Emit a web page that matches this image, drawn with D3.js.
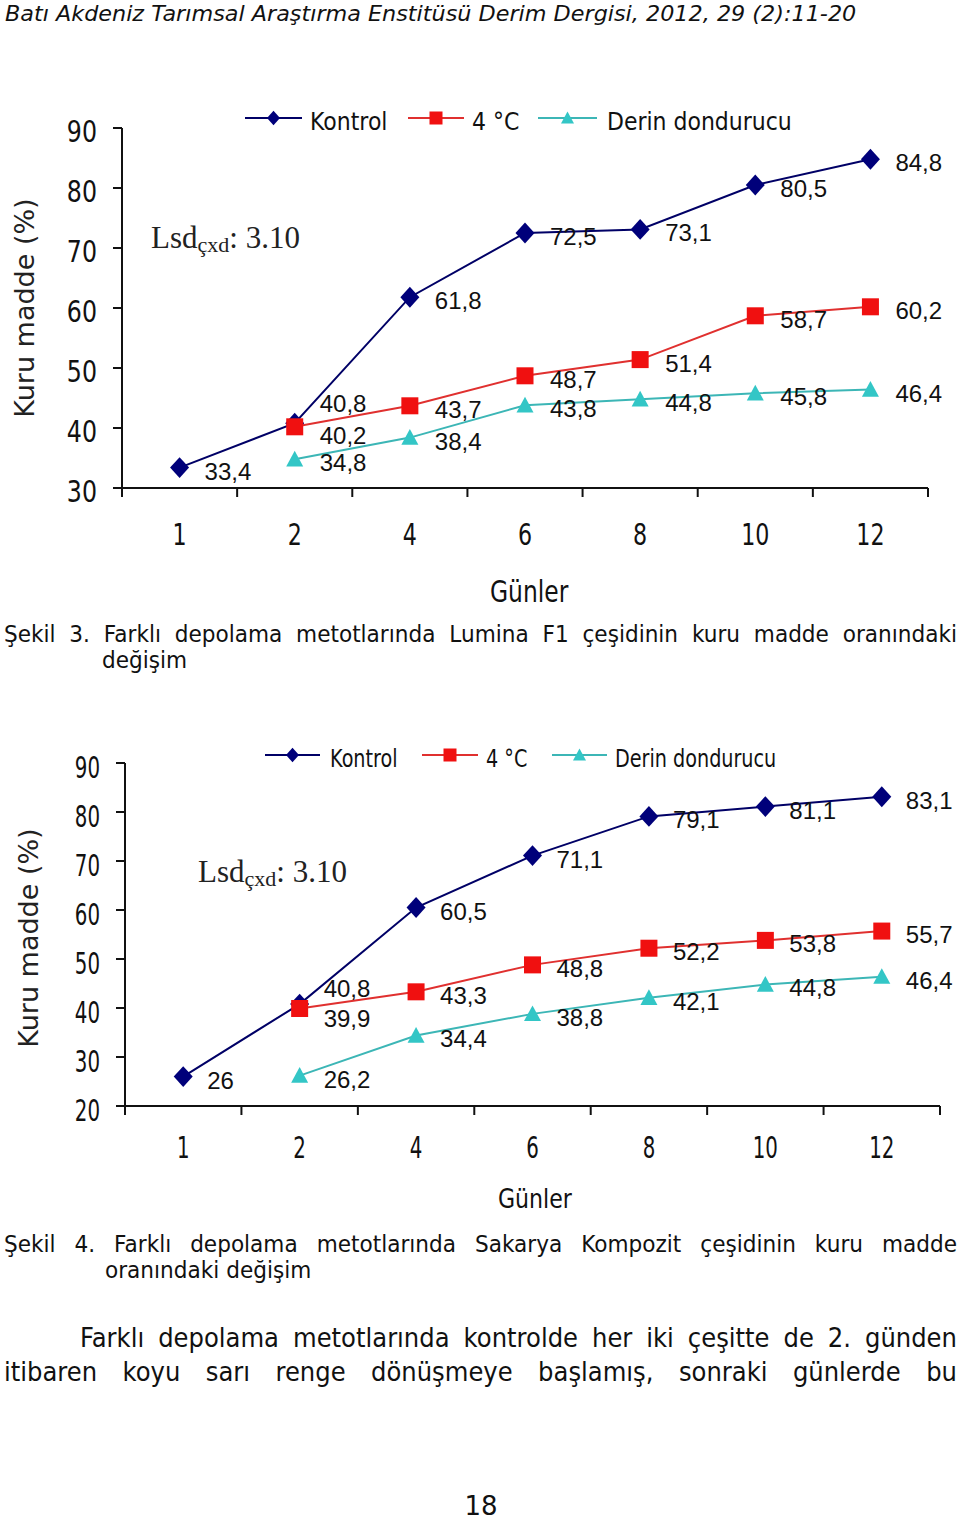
<!DOCTYPE html>
<html><head><meta charset="utf-8">
<script src="https://cdn.jsdelivr.net/npm/d3@7"></script>
<style>html,body{margin:0;padding:0;background:#fff;}svg{display:block;}</style>
</head><body>
<script>
// ---------- DATA ----------
const days = ["1","2","4","6","8","10","12"];
const seriesNames = ["Kontrol","4 °C","Derin dondurucu"];
// Şekil 3 – Lumina F1
const kontrol1 = [33.4, 40.8, 61.8, 72.5, 73.1, 80.5, 84.8];
const soguk1   = [null, 40.2, 43.7, 48.7, 51.4, 58.7, 60.2];
const derin1   = [null, 34.8, 38.4, 43.8, 44.8, 45.8, 46.4];
const yTicks1  = [30, 40, 50, 60, 70, 80, 90];
// Şekil 4 – Sakarya Kompozit
const kontrol2 = [26, 40.8, 60.5, 71.1, 79.1, 81.1, 83.1];
const soguk2   = [null, 39.9, 43.3, 48.8, 52.2, 53.8, 55.7];
const derin2   = [null, 26.2, 34.4, 38.8, 42.1, 44.8, 46.4];
const yTicks2  = [20, 30, 40, 50, 60, 70, 80, 90];

const headerText = "Batı Akdeniz Tarımsal Araştırma Enstitüsü Derim Dergisi, 2012, 29 (2):11-20";
const caption3 = ["Şekil 3. Farklı depolama metotlarında Lumina F1 çeşidinin kuru madde oranındaki", "değişim"];
const caption4 = ["Şekil 4. Farklı depolama metotlarında Sakarya Kompozit çeşidinin kuru madde", "oranındaki değişim"];
const paragraph = ["Farklı depolama metotlarında kontrolde her iki çeşitte de 2. günden", "itibaren koyu sarı renge dönüşmeye başlamış, sonraki günlerde bu"];
const pageNo = "18";

// ---------- STYLE ----------
const colors = {line: ["#000066", "#e0302f", "#3cb6b6"], mark: ["#00007a", "#f01010", "#33c6c6"]};
const SANS = "'DejaVu Sans', Verdana, sans-serif";
const ARIAL = "'Liberation Sans', Arial, sans-serif";
const SERIF = "'Liberation Serif', 'Times New Roman', serif";

const svg = d3.select("body").append("svg").attr("width", 960).attr("height", 1520);
svg.append("rect").attr("width", 960).attr("height", 1520).attr("fill", "#fff");

function stext(g, str, x, y, size, sx, family, anchor) {
  return g.append("text")
    .attr("transform", `translate(${x},${y}) scale(${sx},1)`)
    .attr("font-family", family || SANS).attr("font-size", size)
    .attr("text-anchor", anchor || "start").attr("fill", "#111").text(str);
}

function marker(g, type, cx, cy, s, color) {
  if (type === 0) {
    g.append("path").attr("d", `M${cx},${cy - s * 1.1}L${cx + s},${cy}L${cx},${cy + s * 1.1}L${cx - s},${cy}Z`).attr("fill", color);
  } else if (type === 1) {
    g.append("rect").attr("x", cx - s).attr("y", cy - s).attr("width", 2 * s).attr("height", 2 * s).attr("fill", color);
  } else {
    g.append("path").attr("d", `M${cx},${cy - s}L${cx + s},${cy + s * 0.85}L${cx - s},${cy + s * 0.85}Z`).attr("fill", color);
  }
}

// ---------- CHART ----------
function drawChart(cfg, series, yTicks) {
  const g = svg.append("g");
  const x = d3.scaleBand().domain(days).range([cfg.left, cfg.right]).padding(0);
  const y = d3.scaleLinear().domain(cfg.yDomain).range([cfg.yBottom, cfg.yTop]);
  const cx = d => x(d) + x.bandwidth() / 2;
  const y0 = y(cfg.yDomain[0]);

  // axes
  g.append("line").attr("x1", cfg.left).attr("x2", cfg.left).attr("y1", y(cfg.yDomain[1])).attr("y2", y0 + 9)
    .attr("stroke", "#111").attr("stroke-width", 2);
  g.append("line").attr("x1", cfg.left - 9).attr("x2", cfg.right).attr("y1", y0).attr("y2", y0)
    .attr("stroke", "#111").attr("stroke-width", 2);
  yTicks.forEach(t => {
    g.append("line").attr("x1", cfg.left - 9).attr("x2", cfg.left).attr("y1", y(t)).attr("y2", y(t))
      .attr("stroke", "#111").attr("stroke-width", 2);
    stext(g, String(t), cfg.left - 25, y(t) + cfg.yLabDy, cfg.yLabSize, cfg.yLabSx, SANS, "end");
  });
  const bounds = days.map(d => x(d)).concat([cfg.right]);
  bounds.forEach(b => {
    g.append("line").attr("x1", b).attr("x2", b).attr("y1", y0).attr("y2", y0 + 9)
      .attr("stroke", "#111").attr("stroke-width", 2);
  });
  days.forEach(d => stext(g, d, cx(d), cfg.xLabY, cfg.xLabSize, cfg.xLabSx, SANS, "middle"));

  // titles
  stext(g, "Günler", cfg.gunX, cfg.gunY, cfg.gunSize, cfg.gunSx, SANS, "start");
  g.append("text").attr("transform", `translate(${cfg.ytX},${cfg.ytY}) rotate(-90)`)
    .attr("font-family", SANS).attr("font-size", 27).attr("text-anchor", "middle").attr("fill", "#222")
    .text("Kuru madde (%)");

  // Lsd annotation
  const lsd = g.append("text").attr("x", cfg.lsdX).attr("y", cfg.lsdY).attr("font-family", SERIF)
    .attr("font-size", 31).attr("fill", "#222");
  lsd.append("tspan").text("Lsd");
  lsd.append("tspan").attr("font-size", 22).attr("dy", 4).text("çxd");
  lsd.append("tspan").attr("dy", -4).text(": 3.10");

  // lines
  const line = d3.line().defined(d => d.v != null).x(d => cx(d.day)).y(d => y(d.v));
  series.forEach((vals, i) => {
    const pts = vals.map((v, j) => ({day: days[j], v}));
    g.append("path").datum(pts).attr("d", line).attr("fill", "none")
      .attr("stroke", colors.line[i]).attr("stroke-width", 2);
  });
  series.forEach((vals, i) => {
    vals.forEach((v, j) => {
      if (v == null) return;
      marker(g, i, cx(days[j]), y(v), i === 0 ? 9.5 : 8.5, colors.mark[i]);
    });
  });
  // data labels
  series.forEach((vals, i) => {
    vals.forEach((v, j) => {
      if (v == null) return;
      const key = i + "-" + j;
      const dy = cfg.labDy[key] != null ? cfg.labDy[key] : 12;
      g.append("text").attr("x", cx(days[j]) + cfg.labDx).attr("y", y(v) + dy)
        .attr("font-family", ARIAL).attr("font-size", 24).attr("fill", "#111")
        .text(String(v).replace(".", ","));
    });
  });

  // legend
  cfg.legend.forEach((L, i) => {
    g.append("line").attr("x1", L[0]).attr("x2", L[1]).attr("y1", cfg.legY).attr("y2", cfg.legY)
      .attr("stroke", colors.line[i]).attr("stroke-width", 2);
    marker(g, i, (L[0] + L[1]) / 2, cfg.legY, 6.5, colors.mark[i]);
    stext(g, seriesNames[i], L[2], cfg.legY + 12, cfg.legSize, cfg.legSx, SANS, "start");
  });
}

drawChart({
  left: 122, right: 928, yTop: 128, yBottom: 488, yDomain: [30, 90],
  yLabDy: 14, yLabSize: 30, yLabSx: 0.79,
  xLabY: 545, xLabSize: 30, xLabSx: 0.74,
  gunX: 490, gunY: 602, gunSize: 30, gunSx: 0.78,
  ytX: 34, ytY: 308,
  lsdX: 151, lsdY: 248,
  labDx: 25, labDy: {"0-1": -11, "1-1": 17},
  legend: [[245, 302, 310], [408, 464, 472], [538, 597, 607]], legY: 118, legSize: 25, legSx: 0.88
}, [kontrol1, soguk1, derin1], yTicks1);

drawChart({
  left: 125, right: 940, yTop: 763, yBottom: 1106, yDomain: [20, 90],
  yLabDy: 15, yLabSize: 30, yLabSx: 0.66,
  xLabY: 1158, xLabSize: 30, xLabSx: 0.66,
  gunX: 498, gunY: 1208, gunSize: 26, gunSx: 0.85,
  ytX: 38, ytY: 938,
  lsdX: 198, lsdY: 882,
  labDx: 24, labDy: {"0-1": -7, "1-1": 19},
  legend: [[265, 320, 330], [422, 478, 486], [552, 607, 615]], legY: 755, legSize: 24, legSx: 0.8
}, [kontrol2, soguk2, derin2], yTicks2);

// ---------- PAGE TEXT ----------
const hdr = svg.append("text").attr("x", 0).attr("y", 0)
  .attr("font-family", SANS).attr("font-style", "italic").attr("font-size", 22).attr("fill", "#111").text(headerText);
const hw = hdr.node().getComputedTextLength();
hdr.attr("transform", `translate(5,21) scale(${852 / hw},1)`);

function justify(str, x0, x1, y, size, sx, justifyIt) {
  const words = str.split(" ");
  const els = words.map(w => svg.append("text").attr("font-family", SANS).attr("font-size", size)
    .attr("fill", "#111").text(w));
  const widths = els.map(e => e.node().getComputedTextLength() * sx);
  const total = d3.sum(widths);
  const gap = justifyIt ? (x1 - x0 - total) / (words.length - 1) : size * 0.318 * sx;
  let cx = x0;
  els.forEach((e, i) => {
    e.attr("transform", `translate(${cx},${y}) scale(${sx},1)`);
    cx += widths[i] + gap;
  });
}
justify(caption3[0], 4, 957, 642, 23, 0.94, true);
justify(caption3[1], 102, 957, 668, 23, 0.94, false);
justify(caption4[0], 4, 957, 1252, 23, 0.94, true);
justify(caption4[1], 105, 957, 1278, 23, 0.94, false);
justify(paragraph[0], 80, 957, 1347, 27, 0.9, true);
justify(paragraph[1], 4, 957, 1381, 27, 0.9, true);

svg.append("text").attr("x", 481).attr("y", 1515).attr("text-anchor", "middle")
  .attr("font-family", SANS).attr("font-size", 26).attr("fill", "#111").text(pageNo);
</script>
</body></html>
